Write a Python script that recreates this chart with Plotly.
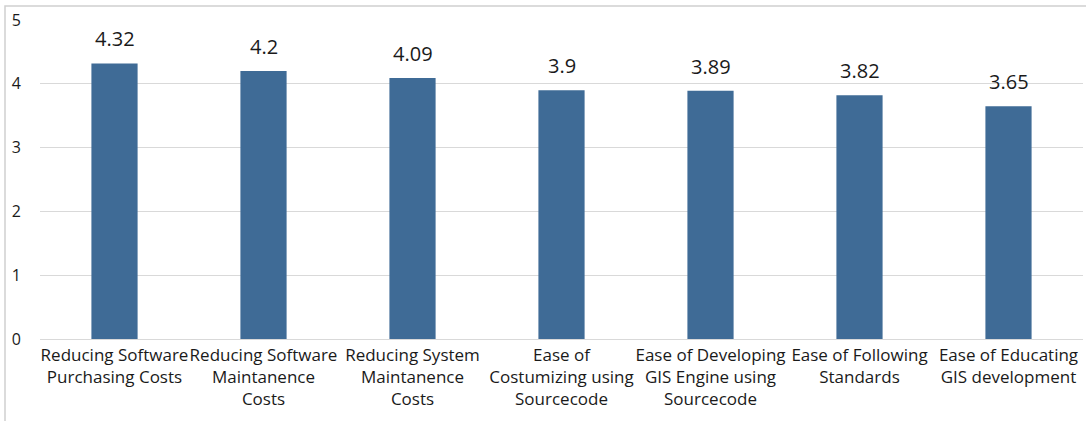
import plotly.graph_objects as go

categories = [
    "Reducing Software<br>Purchasing Costs",
    "Reducing Software<br>Maintanence<br>Costs",
    "Reducing System<br>Maintanence<br>Costs",
    "Ease of<br>Costumizing using<br>Sourcecode",
    "Ease of Developing<br>GIS Engine using<br>Sourcecode",
    "Ease of Following<br>Standards",
    "Ease of Educating<br>GIS development",
]
values = [4.32, 4.2, 4.09, 3.9, 3.89, 3.82, 3.65]
value_labels = ["4.32", "4.2", "4.09", "3.9", "3.89", "3.82", "3.65"]
y_ticks = [0, 1, 2, 3, 4, 5]

W, H = 1086, 421
ml, mr, mt, mb = 40, 3, 20, 82
FONT = "Open Sans, Liberation Sans, sans-serif"

fig = go.Figure()
fig.add_trace(go.Bar(
    x=categories, y=values,
    marker=dict(color="#3F6B96", line=dict(width=0)),
    width=0.31,
    hoverinfo="skip",
))
for c, v, t in zip(categories, values, value_labels):
    fig.add_annotation(x=c, y=v, text=t, showarrow=False, yanchor="bottom",
                       yshift=9, font=dict(size=20, color="#1a1a1a", family=FONT))

pw = W - ml - mr
ph = H - mt - mb
fig.add_shape(type="rect", xref="paper", yref="paper",
              x0=(5 - ml) / pw, x1=(W + 10 - ml) / pw,
              y0=-(H + 10 - mt - ph) / ph, y1=(ph + mt - 6) / ph,
              line=dict(color="#D0D0D0", width=1.5), layer="below")

fig.update_layout(
    width=W, height=H,
    margin=dict(l=ml, r=mr, t=mt, b=mb),
    paper_bgcolor="white", plot_bgcolor="white",
    showlegend=False,
    font=dict(family=FONT, size=14, color="#1a1a1a"),
    xaxis=dict(showgrid=False, showline=False, ticks="", tickangle=0,
               tickfont=dict(size=17), ticklabelstandoff=4, automargin=False),
    yaxis=dict(range=[0, 5], tickvals=y_ticks, showgrid=True, gridcolor="#D9D9D9",
               gridwidth=1, zeroline=True, zerolinecolor="#D9D9D9", zerolinewidth=1,
               showline=False, ticks="", tickfont=dict(size=16),
               ticklabelstandoff=18, automargin=False),
)

fig.write_html("out.html")
